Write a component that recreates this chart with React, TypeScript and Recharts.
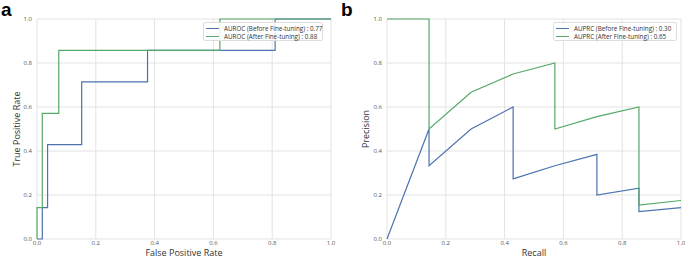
import React from "react";
import { CartesianGrid, Line, LineChart, XAxis, YAxis } from "recharts";

// ROC curves (panel a)
const rocBeforeFpr = [0, 0.018, 0.018, 0.036, 0.036, 0.152, 0.152, 0.376, 0.376, 0.81, 0.81, 1];
const rocBeforeTpr = [0, 0, 0.143, 0.143, 0.429, 0.429, 0.714, 0.714, 0.857, 0.857, 1, 1];
const rocAfterFpr = [0, 0, 0.018, 0.018, 0.074, 0.074, 0.622, 0.622, 1];
const rocAfterTpr = [0, 0.143, 0.143, 0.571, 0.571, 0.857, 0.857, 1, 1];

// PR curves (panel b)
const prBeforeRecall = [0, 0.143, 0.143, 0.286, 0.429, 0.429, 0.571, 0.714, 0.714, 0.857, 0.857, 1];
const prBeforePrecision = [0, 0.5, 0.333, 0.5, 0.6, 0.273, 0.333, 0.385, 0.2, 0.231, 0.125, 0.143];
const prAfterRecall = [0, 0.143, 0.143, 0.286, 0.429, 0.571, 0.571, 0.714, 0.857, 0.857, 1];
const prAfterPrecision = [1, 1, 0.5, 0.667, 0.75, 0.8, 0.5, 0.556, 0.6, 0.154, 0.175];

const ticks = [0, 0.2, 0.4, 0.6, 0.8, 1.0];

const rocLegend = ["AUROC (Before Fine-tuning) : 0.77", "AUROC (After Fine-tuning) : 0.88"];
const prLegend = ["AUPRC (Before Fine-tuning) : 0.30", "AUPRC (After Fine-tuning) : 0.65"];

const BLUE = "#4c72b0";
const GREEN = "#55a868";
const FONT = "'Open Sans', 'DejaVu Sans', sans-serif";

const zip = (xs: number[], ys: number[]) => xs.map((x, i) => ({ x, y: ys[i] }));

const tickStyle = { fontSize: 6, fill: "#555", fontFamily: FONT };

type PanelProps = {
  letter: string;
  width: number;
  yAxisWidth: number;
  xLabel: string;
  yLabel: string;
  yLabelX: number;
  before: { x: number; y: number }[];
  after: { x: number; y: number }[];
  legend: string[];
  legendLeft: number;
  legendWidth: number;
};

function Panel({
  letter,
  width,
  yAxisWidth,
  xLabel,
  yLabel,
  yLabelX,
  before,
  after,
  legend,
  legendLeft,
  legendWidth,
}: PanelProps) {
  return (
    <div style={{ position: "relative", width, height: 259, flex: "none" }}>
      <LineChart width={width} height={259} margin={{ top: 19, right: width - yAxisWidth - 294, bottom: 0, left: 0 }}>
        <CartesianGrid stroke="#e3e3e3" strokeWidth={1} />
        <XAxis
          type="number"
          dataKey="x"
          domain={[0, 1]}
          ticks={ticks}
          tickFormatter={(v: number) => v.toFixed(1)}
          axisLine={false}
          tickLine={false}
          tickSize={0}
          tick={tickStyle}
          tickMargin={2}
          height={20}
        />
        <YAxis
          type="number"
          dataKey="y"
          domain={[0, 1]}
          ticks={ticks}
          tickFormatter={(v: number) => v.toFixed(1)}
          axisLine={false}
          tickLine={false}
          tickSize={0}
          tick={tickStyle}
          tickMargin={5}
          width={yAxisWidth}
        />
        <Line data={before} dataKey="y" type="linear" stroke={BLUE} strokeWidth={1.2} dot={false} isAnimationActive={false} />
        <Line data={after} dataKey="y" type="linear" stroke={GREEN} strokeWidth={1.2} dot={false} isAnimationActive={false} />
      </LineChart>
      <div
        style={{
          position: "absolute",
          left: yAxisWidth + 147,
          top: 248,
          transform: "translateX(-50%)",
          fontSize: 9,
          lineHeight: "10px",
          color: "#333",
          fontFamily: FONT,
          whiteSpace: "nowrap",
        }}
      >
        {xLabel}
      </div>
      <div
        style={{
          position: "absolute",
          left: yLabelX,
          top: 129,
          transform: "translate(-50%, -50%) rotate(-90deg)",
          fontSize: 9,
          color: "#333",
          fontFamily: FONT,
          whiteSpace: "nowrap",
        }}
      >
        {yLabel}
      </div>
      <div
        style={{
          position: "absolute",
          left: 1,
          top: 0,
          fontSize: 19,
          lineHeight: "19px",
          fontWeight: "bold",
          fontFamily: "'Liberation Sans', Arial, sans-serif",
          color: "#000",
        }}
      >
        {letter}
      </div>
      <div
        style={{
          position: "absolute",
          left: legendLeft,
          top: 22,
          width: legendWidth,
          height: 19,
          boxSizing: "border-box",
          border: "1px solid #ddd",
          borderRadius: 2,
          background: "rgba(255,255,255,0.85)",
          fontFamily: FONT,
          fontSize: 6.3,
          color: "#333",
          padding: "1px 0 0 2px",
        }}
      >
        {legend.map((t, i) => (
          <div key={t} style={{ display: "flex", alignItems: "center", height: 8.5 }}>
            <span style={{ display: "inline-block", width: 13, height: 1.2, background: i === 0 ? BLUE : GREEN, marginRight: 5, flex: "none" }} />
            <span style={{ whiteSpace: "nowrap" }}>{t}</span>
          </div>
        ))}
      </div>
    </div>
  );
}

export default function App() {
  return (
    <div style={{ position: "absolute", left: 0, top: 0, width: 685, height: 259, background: "#fff", display: "flex" }}>
      <Panel
        letter="a"
        width={340}
        yAxisWidth={37}
        xLabel="False Positive Rate"
        yLabel="True Positive Rate"
        yLabelX={16}
        before={zip(rocBeforeFpr, rocBeforeTpr)}
        after={zip(rocAfterFpr, rocAfterTpr)}
        legend={rocLegend}
        legendLeft={203}
        legendWidth={120}
      />
      <Panel
        letter="b"
        width={345}
        yAxisWidth={47}
        xLabel="Recall"
        yLabel="Precision"
        yLabelX={25}
        before={zip(prBeforeRecall, prBeforePrecision)}
        after={zip(prAfterRecall, prAfterPrecision)}
        legend={prLegend}
        legendLeft={213}
        legendWidth={124}
      />
    </div>
  );
}
